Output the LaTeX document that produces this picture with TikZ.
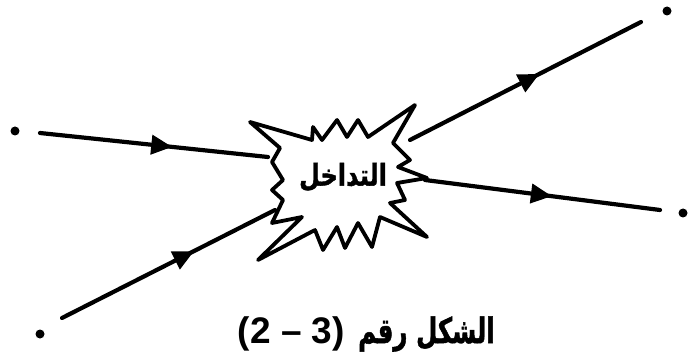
\documentclass[tikz,border=0pt]{standalone}
\usepackage{fontspec}
\newfontfamily\arabicfont[Script=Arabic,FakeBold=1.5]{DejaVu Sans Bold}
\newfontfamily\digitfont{Liberation Sans Bold}
\TeXXeTstate=1
\usetikzlibrary{arrows.meta,decorations.markings}
\tikzset{
  flow/.style={line width=4.2pt, line cap=round},
  midarrow/.style={postaction={decorate,decoration={markings,
     mark=at position #1 with {\arrow{Triangle[length=21pt,width=19pt]}}}}},
  enddot/.style={circle, fill=black, inner sep=0pt, minimum size=9pt},
  burst/.style={line width=3.8pt, line join=round, fill=white},
}
\begin{document}
\begin{tikzpicture}[x=1pt,y=-1pt]
\useasboundingbox (0,0) rectangle (688,358);
% end dots
\node[enddot] (dA) at (15,131) {};
\node[enddot] (dB) at (40,334) {};
\node[enddot] (dC) at (667,11) {};
\node[enddot] (dD) at (683,213) {};
% line ends
\coordinate (a1) at (40,133);  \coordinate (a2) at (268,157);
\coordinate (b1) at (62,318);  \coordinate (b2) at (275,210);
\coordinate (c1) at (410,140); \coordinate (c2) at (641,22);
\coordinate (d1) at (425,180); \coordinate (d2) at (660,210);
\draw[flow, midarrow=0.58] (a1) -- (a2);
\draw[flow, midarrow=0.62] (b1) -- (b2);
\draw[flow, midarrow=0.56] (c1) -- (c2);
\draw[flow, midarrow=0.54] (d1) -- (d2);
% starburst
\draw[burst] (250,122) -- (312,140) -- (313,127) -- (322,140) -- (337,120)
  -- (347,137) -- (358,120) -- (368,137) -- (415,105) -- (393,143)
  -- (410,160) -- (398,167) -- (427,178) -- (397,183) -- (405,200)
  -- (390,203) -- (427,237) -- (380,217) -- (372,247) -- (358,223)
  -- (345,248) -- (337,227) -- (323,250) -- (315,230) -- (258,260)
  -- (302,217) -- (272,223) -- (283,200) -- (272,190) -- (283,180)
  -- (272,162) -- (280,148) -- cycle;
\node[xscale=0.8] (lbl) at (343,177) {\arabicfont\fontsize{30}{33}\selectfont\beginR التداخل\endR};
\node[anchor=base east, inner sep=0pt] (capnum) at (345,343) {\digitfont\fontsize{37}{40}\selectfont (2 – 3)};
\node[anchor=base west, inner sep=0pt, xscale=0.7] (captxt) at (358,343) {\arabicfont\fontsize{35}{40}\selectfont\beginR الشكل رقم\endR};
\end{tikzpicture}
\end{document}
